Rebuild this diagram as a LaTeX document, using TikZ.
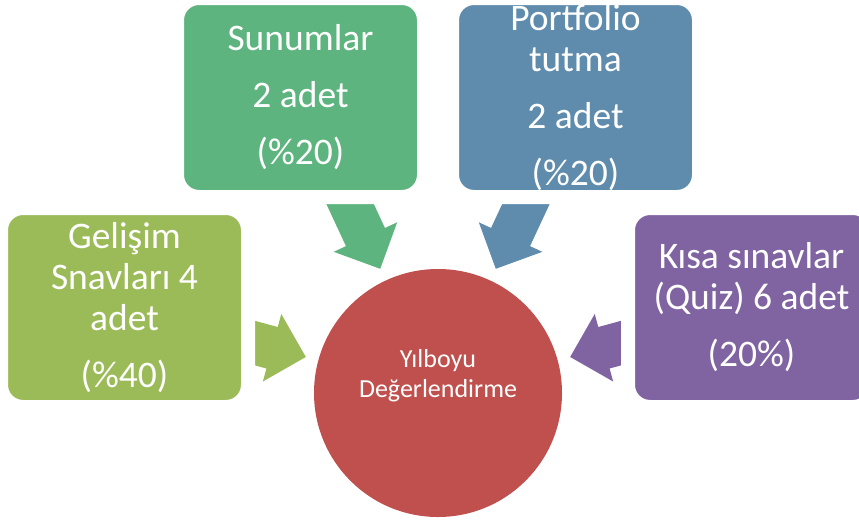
\documentclass[tikz,border=0pt]{standalone}
\usepackage{fontspec}
\setmainfont{Carlito}
\usetikzlibrary{backgrounds}

\definecolor{sunumgreen}{RGB}{93,180,126}
\definecolor{portblue}{RGB}{95,140,172}
\definecolor{gelisgreen}{RGB}{155,187,89}
\definecolor{kisapurple}{RGB}{128,100,162}
\definecolor{yilred}{RGB}{192,80,77}

\tikzset{
  kutu/.style={rounded corners=22pt, draw=white, line width=14pt,
    minimum width=247pt, minimum height=199pt, text=white, align=center,
    font=\fontsize{37.5}{41}\selectfont},
  yiltext/.style={text=white, align=center, font=\fontsize{26}{30}\selectfont},
  okblok/.pic={\fill (-300,-21.5) -- (-172,-21.5) -- (-172,-35) -- (-137,0)
    -- (-172,35) -- (-172,21.5) -- (-300,21.5) -- cycle;}
}

\begin{document}
\begin{tikzpicture}[x=1pt,y=-1pt]
\useasboundingbox (0,0) rectangle (859,520);

\node[kutu, fill=sunumgreen] (sunum) at (300.5,97.5) {Sunumlar\\[16pt]2 adet\\[16pt](\%20)};
\node[kutu, fill=portblue] (port) at (575.5,97.5) {Portfolio\\tutma\\[16pt]2 adet\\[16pt](\%20)};
\node[kutu, fill=gelisgreen] (gelis) at (124.5,307.5) {Gelişim\\Snavları 4\\adet\\[16pt](\%40)};
\node[kutu, fill=kisapurple] (kisa) at (751.5,307.5) {Kısa sınavlar\\(Quiz) 6 adet\\[16pt](20\%)};

\node[circle, fill=yilred, minimum size=248pt, inner sep=0pt,
  label={[yiltext, yshift=17pt]center:Yılboyu\\Değerlendirme}] (yil) at (438,393) {};

\begin{scope}[on background layer]
\fill[white] (0,0) rectangle (859,520);
\pic[sunumgreen, rotate=-65.05] at (yil.center) {okblok};
\pic[portblue, rotate=-114.95] at (yil.center) {okblok};
\pic[gelisgreen, rotate=-15.25] at (yil.center) {okblok};
\pic[kisapurple, rotate=-164.75] at (yil.center) {okblok};
\end{scope}
\end{tikzpicture}
\end{document}
